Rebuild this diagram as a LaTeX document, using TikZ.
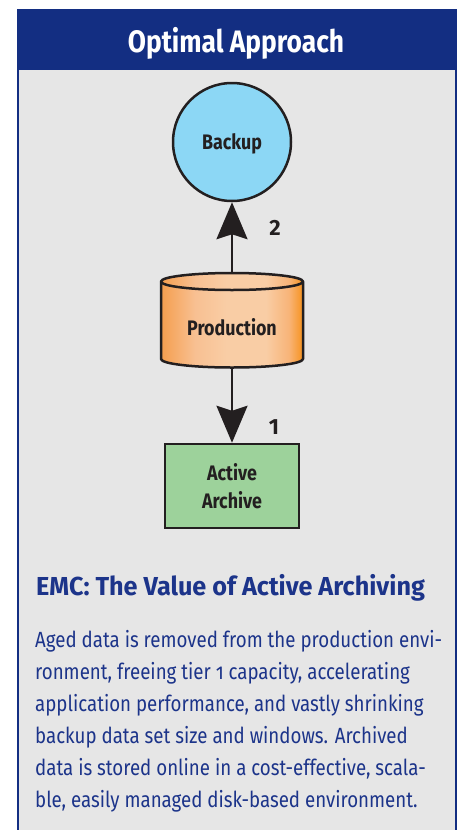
\documentclass[tikz,border=0pt]{standalone}
\usepackage{fontspec}
\setmainfont{Fira Sans}[FakeStretch=0.85]
\newfontfamily\numfont{Fira Sans}
\newfontfamily\titlefont{Fira Sans}[FakeStretch=0.97]
\usetikzlibrary{arrows.meta}
\definecolor{hdrblue}{RGB}{19,46,130}
\definecolor{bggray}{RGB}{230,230,230}
\definecolor{txtblue}{RGB}{28,52,138}
\definecolor{circblue}{RGB}{140,215,245}
\definecolor{boxgreen}{RGB}{157,210,155}
\definecolor{orgleft}{RGB}{245,158,78}
\definecolor{orgmid}{RGB}{248,192,146}
\definecolor{orglight}{RGB}{249,205,165}
\definecolor{orgmid2}{RGB}{248,180,120}
\definecolor{orgright}{RGB}{246,146,30}
\definecolor{ink}{RGB}{35,31,32}
\pgfdeclarehorizontalshading{cylshade}{100bp}{color(0bp)=(orgleft); color(25bp)=(orgleft);
  color(37bp)=(orgmid); color(48bp)=(orglight); color(62bp)=(orglight);
  color(70bp)=(orgmid2); color(75bp)=(orgright); color(100bp)=(orgright)}
\tikzset{
  shapelabel/.style={font=\bfseries\fontsize{21}{28}\selectfont, text=ink},
  arr/.style={draw=ink, line width=2.5pt, -{Stealth[length=37pt, width=31pt, inset=5pt]}},
  steplabel/.style={font=\numfont\bfseries\fontsize{22}{22}\selectfont, text=ink, anchor=base},
  bodyline/.style={anchor=base west, inner sep=0pt, font=\fontsize{22}{22}\selectfont, text=txtblue},
}
\begin{document}
\begin{tikzpicture}[x=1pt,y=-1pt]
\useasboundingbox (0,0) rectangle (462,830);
\fill[white] (0,0) rectangle (462,830);
\fill[bggray] (18,69) rectangle (456,830);
\draw[hdrblue, line width=2pt] (18,69) -- (18,831);
\draw[hdrblue, line width=2pt] (456,69) -- (456,831);
\fill[hdrblue] (17,9) rectangle (457,70);
\node[anchor=base, text=white, font=\bfseries\fontsize{31}{31}\selectfont] (hdr) at (236,52) {Optimal Approach};

% Backup circle
\node[circle, draw=ink, line width=2.5pt, fill=circblue, minimum size=118pt, inner sep=0pt,
      shapelabel, text height=15pt, text depth=0pt] (backup) at (232,142) {Backup};

% Production cylinder
\path[shading=cylshade]
  (161,281.5) -- (161,359) arc[start angle=180, end angle=0, x radius=71, y radius=8.5]
  -- (303,281.5) arc[start angle=0, end angle=-180, x radius=71, y radius=8.5] -- cycle;
\draw[ink, line width=2.5pt, line join=round]
  (161,281.5) -- (161,359) arc[start angle=180, end angle=0, x radius=71, y radius=8.5]
  -- (303,281.5) arc[start angle=0, end angle=-180, x radius=71, y radius=8.5] -- cycle;
\draw[ink, line width=2.5pt] (161,281.5) arc[start angle=180, end angle=0, x radius=71, y radius=8.5];
\coordinate (prodtop) at (232,273);
\coordinate (prodbot) at (232,367.5);
\node[shapelabel, anchor=base] (prod) at (232,335) {Production};

% Active Archive box
\node[draw=ink, line width=2.5pt, fill=boxgreen, minimum width=134pt, minimum height=84pt,
      inner sep=0pt, shapelabel, align=center] (arch) at (232,486) {Active\\Archive};

% connectors
\draw[arr] (prodtop) -- (backup.south);
\draw[arr] (prodbot) -- (arch.north);
\node[steplabel] (two) at (275,235) {2};
\node[steplabel] (one) at (274,434) {1};

% text
\node[anchor=base west, inner sep=0pt, font=\titlefont\bfseries\fontsize{26}{26}\selectfont, text=txtblue] (title) at (36,595)
  {EMC: The Value of Active Archiving};
\node[bodyline] (l1) at (35,647) {Aged data is removed from the production envi-};
\node[bodyline] (l2) at (35,679) {ronment, freeing tier {\addfontfeature{Numbers=OldStyle}1} capacity, accelerating};
\node[bodyline] (l3) at (35,711) {application performance, and vastly shrinking};
\node[bodyline] (l4) at (35,743) {backup data set size and windows. Archived};
\node[bodyline] (l5) at (35,775) {data is stored online in a cost-effective, scala-};
\node[bodyline] (l6) at (35,807) {ble, easily managed disk-based environment.};
\end{tikzpicture}
\end{document}
